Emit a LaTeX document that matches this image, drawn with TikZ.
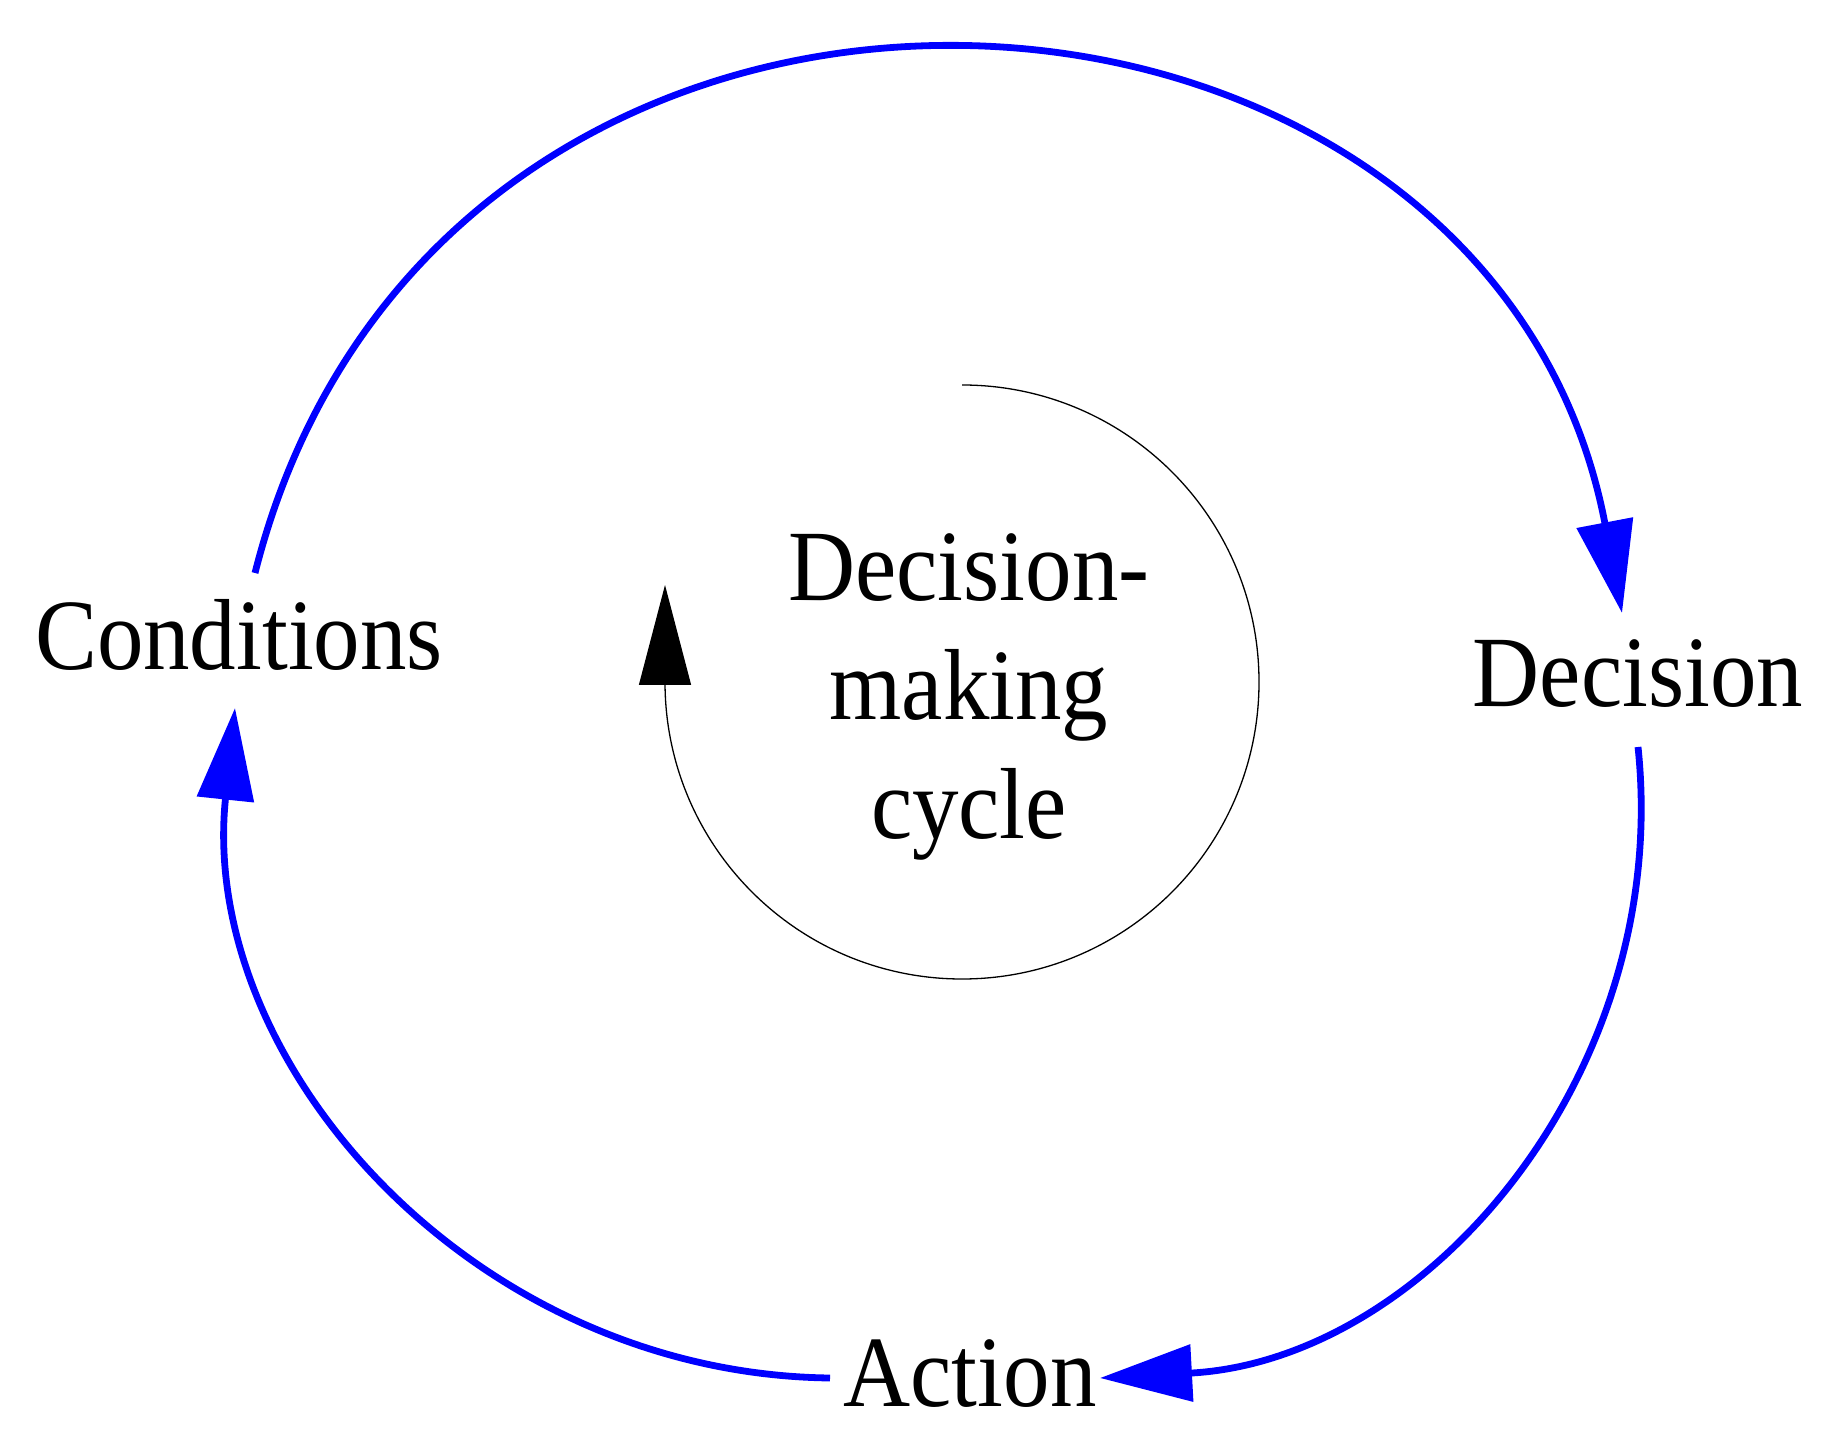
\documentclass[tikz,border=0pt]{standalone}
\usepackage{fontspec}
\setmainfont{Liberation Serif}[FakeStretch=0.92]
\usetikzlibrary{arrows.meta}

\begin{document}
\begin{tikzpicture}[x=0.5pt,y=0.5pt,
        lbl/.style={anchor=base,inner sep=0pt,font=\fontsize{50.5pt}{59.5pt}\selectfont},
        flow/.style={blue,line width=3.4pt,-{Triangle[length=46pt,width=28pt]}},
        ring/.style={black,line width=0.65pt,-{Triangle[length=50pt,width=26pt]}}]
            \useasboundingbox (0,0) rectangle (1839,1435);

            \node[lbl] (cond) at (239,765) {Conditions};
            \node[lbl] (dec) at (1638,728) {Decision};
            \node[lbl] (act) at (970,29) {Action};
            \node[lbl,align=center] (mid) at (969,596) {Decision-\\making\\cycle};

            \coordinate (cond-out) at (255,862);
            \coordinate (dec-in) at (1622,822);
            \coordinate (dec-out) at (1638,688);
            \coordinate (act-in) at (1100,57);
            \coordinate (act-out) at (830,57);
            \coordinate (cond-in) at (235,727);
            \coordinate (mid-top) at (962,1050);
            \coordinate (mid-tip) at (665,850);

            %\draw[->] (cond-out) to (dec-in);
            \draw[flow] (cond-out) to[out=75.8,in=100.8,out looseness=1.40,in looseness=1.34] (dec-in);
            \draw[flow] (dec-out) to[out=-84,in=3.1,looseness=1.01] (act-in);
            \draw[flow] (act-out) to[out=179.3,in=-96,looseness=1.02] (cond-in);
            \draw[ring] (mid-top) arc[start angle=90,end angle=-180,radius=148.5pt] -- (mid-tip);
        \end{tikzpicture}
\end{document}
